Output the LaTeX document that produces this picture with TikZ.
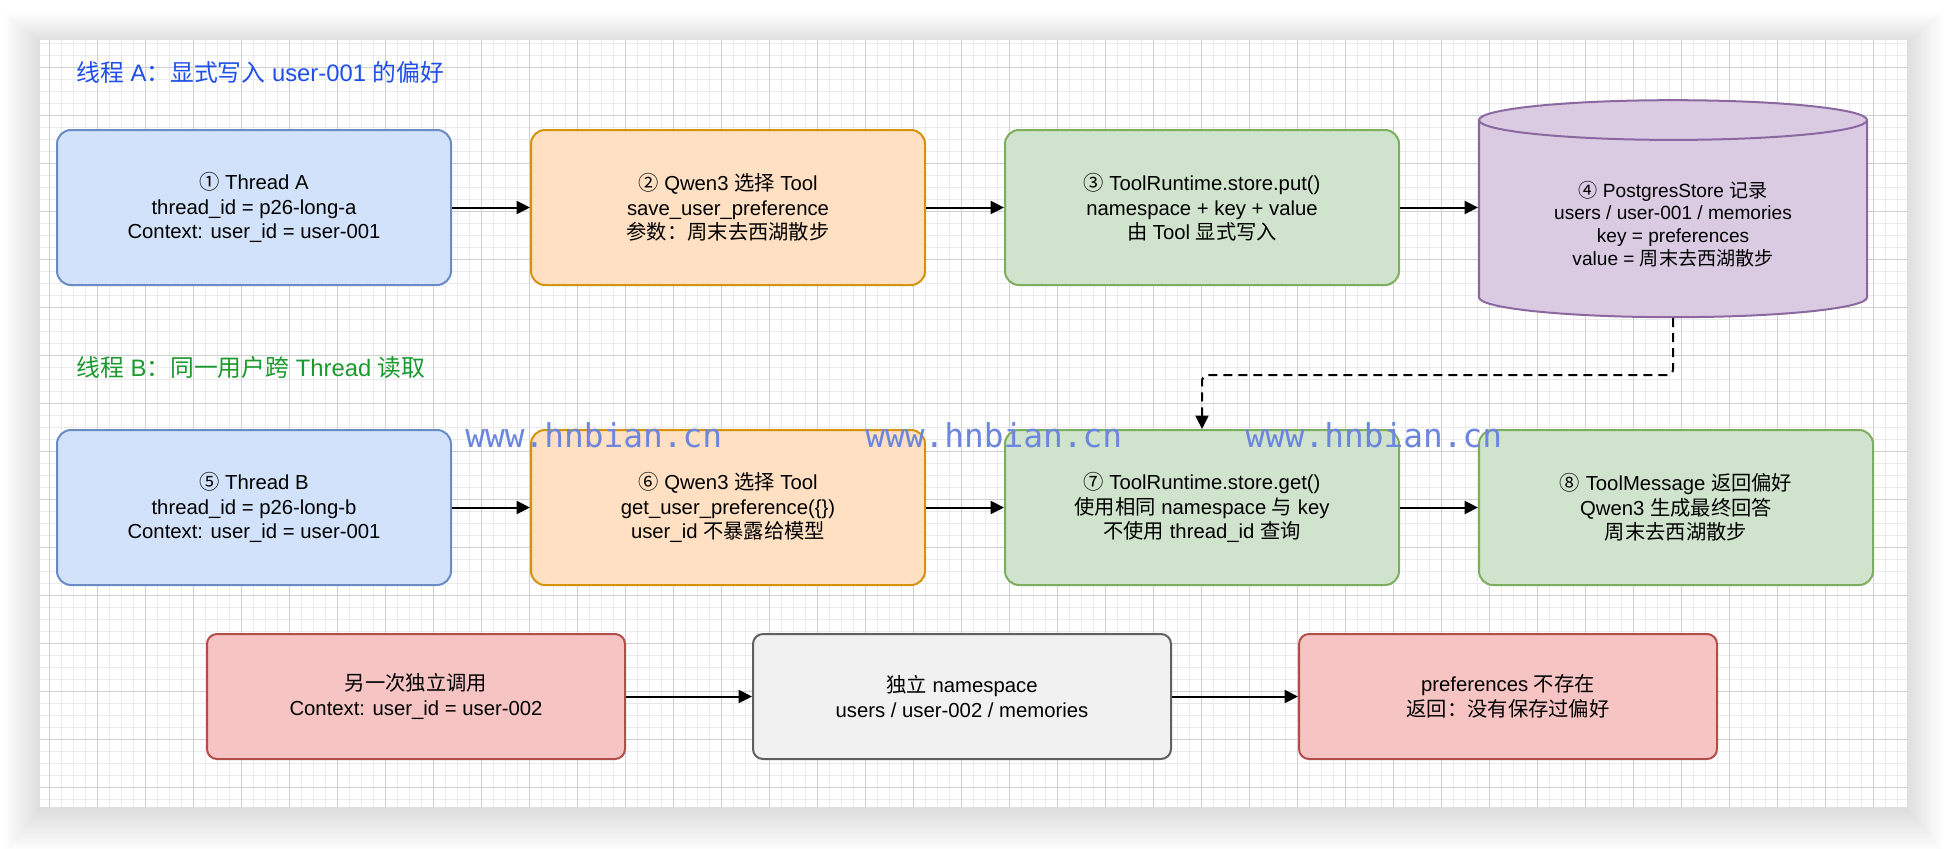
\documentclass[tikz,border=0pt]{standalone}
\usepackage{fontspec}
\setmainfont{Liberation Sans}
\newfontfamily\zhfont{Noto Sans CJK SC}
\newfontfamily\wmfont{DejaVu Sans Mono}
\usetikzlibrary{shapes.geometric, arrows.meta, positioning}
\newcommand{\zh}[1]{{\zhfont #1}}

\definecolor{blueFill}{HTML}{D2E2FA}
\definecolor{blueLine}{HTML}{6A8CC4}
\definecolor{orangeFill}{HTML}{FFE0C2}
\definecolor{orangeLine}{HTML}{D4930A}
\definecolor{greenFill}{HTML}{D0E4CD}
\definecolor{greenLine}{HTML}{7DAE5E}
\definecolor{purpleFill}{HTML}{DACBE3}
\definecolor{purpleLine}{HTML}{8C68A0}
\definecolor{redFill}{HTML}{F5C4C3}
\definecolor{redLine}{HTML}{B24D4A}
\definecolor{greyFill}{HTML}{F1F1F1}
\definecolor{greyLine}{HTML}{5F5F5F}
\definecolor{titleBlue}{HTML}{1F4FE8}
\definecolor{titleGreen}{HTML}{1A9A2E}
\definecolor{wmBlue}{HTML}{6C86DE}
\definecolor{gridMinor}{HTML}{EAEAEA}
\definecolor{gridMajor}{HTML}{D0D0D0}

\begin{document}
\begin{tikzpicture}[x=0.5pt, y=-0.5pt,
  box/.style={rectangle, rounded corners=7pt, line width=1pt,
              minimum width=197pt, minimum height=77.5pt, inner sep=0pt,
              align=center, font=\fontsize{10.15pt}{12.3pt}\selectfont},
  wide/.style={box, rounded corners=5pt, minimum width=209pt, minimum height=62.5pt},
  bluebox/.style={box, draw=blueLine, fill=blueFill},
  orangebox/.style={box, draw=orangeLine, fill=orangeFill},
  greenbox/.style={box, draw=greenLine, fill=greenFill},
  redbox/.style={wide, draw=redLine, fill=redFill},
  greybox/.style={wide, draw=greyLine, fill=greyFill},
  store/.style={cylinder, shape border rotate=90, aspect=0.167, line width=1pt,
                draw=purpleLine, fill=purpleFill, minimum width=194pt,
                minimum height=108.5pt, inner sep=0pt, align=center,
                font=\fontsize{9.55pt}{11.4pt}\selectfont},
  rowtitle/.style={anchor=base west, inner sep=0pt, font=\fontsize{11.9pt}{14pt}\selectfont},
  wmtext/.style={anchor=base west, inner sep=0pt, text=wmBlue, font=\wmfont\fontsize{16.4pt}{18pt}\selectfont},
  gridminor/.style={draw=gridMinor, line width=0.5pt},
  gridmajor/.style={draw=gridMajor, line width=0.5pt},
  arr/.style={-{Triangle[length=6.7pt, width=6.5pt]}, line width=1pt},
  dasharr/.style={arr, dash pattern=on 4.5pt off 3pt, rounded corners=3pt},
]
  \useasboundingbox (0,0) rectangle (1948,848);
  \fill[white] (0,0) rectangle (1948,848);
  \foreach \s in {1,...,16}
    \fill[black, opacity=0.007] (40-2.2*\s,42-1.8*\s) rectangle (1907+2.2*\s,810+2.5*\s);
  \fill[white] (40,40) rectangle (1907,807);
  \foreach \gx in {49,61,...,1897} \draw[gridminor] (\gx,40) -- (\gx,807);
  \foreach \gy in {43.3,55.3,...,799.3} \draw[gridminor] (40,\gy) -- (1907,\gy);
  \foreach \gx in {49,97,...,1873} \draw[gridmajor] (\gx,40) -- (\gx,807);
  \foreach \gy in {67.3,115.3,...,787.3} \draw[gridmajor] (40,\gy) -- (1907,\gy);

  \node[rowtitle, text=titleBlue] (ttlA) at (76,81.5)
    {\zh{线程} A\zh{：显式写入} user-001 \zh{的偏好}};
  \node[rowtitle, text=titleGreen] (ttlB) at (76,376.5)
    {\zh{线程} B\zh{：同一用户跨} Thread \zh{读取}};

  \node[bluebox] (a1) at (254,207.5)
    {\zh{①} Thread A\\thread\_id = p26-long-a\\Context: user\_id = user-001};
  \node[orangebox, right=39pt of a1] (a2)
    {\zh{②} Qwen3 \zh{选择} Tool\\save\_user\_preference\\\zh{参数：周末去西湖散步}};
  \node[greenbox, right=39pt of a2] (a3)
    {\zh{③} ToolRuntime.store.put()\\namespace + key + value\\\zh{由} Tool \zh{显式写入}};
  \node[store, right=39pt of a3, yshift=-5.8pt] (a4)
    {\rule{0pt}{13pt}\zh{④} PostgresStore \zh{记录}\\users / user-001 / memories\\key = preferences\\value = \zh{周末去西湖散步}};

  \node[bluebox] (b1) at (254,507.5)
    {\zh{⑤} Thread B\\thread\_id = p26-long-b\\Context: user\_id = user-001};
  \node[orangebox, right=39pt of b1] (b2)
    {\zh{⑥} Qwen3 \zh{选择} Tool\\get\_user\_preference(\{\})\\user\_id \zh{不暴露给模型}};
  \node[greenbox, right=39pt of b2] (b3)
    {\zh{⑦} ToolRuntime.store.get()\\\zh{使用相同} namespace \zh{与} key\\\zh{不使用} thread\_id \zh{查询}};
  \node[greenbox, right=39pt of b3] (b4)
    {\zh{⑧} ToolMessage \zh{返回偏好}\\Qwen3 \zh{生成最终回答}\\\zh{周末去西湖散步}};

  \node[redbox] (c1) at (416,696.5)
    {\zh{另一次独立调用}\\Context: user\_id = user-002};
  \node[greybox, right=63pt of c1] (c2)
    {\zh{独立} namespace\\users / user-002 / memories};
  \node[redbox, right=63pt of c2] (c3)
    {preferences \zh{不存在}\\\zh{返回：没有保存过偏好}};

  \draw[arr] (a1) -- (a2);
  \draw[arr] (a2) -- (a3);
  \draw[arr] (a3.east) -- (a3.east -| a4.west);
  \draw[arr] (b1) -- (b2);
  \draw[arr] (b2) -- (b3);
  \draw[arr] (b3) -- (b4);
  \draw[arr] (c1) -- (c2);
  \draw[arr] (c2) -- (c3);
  \draw[dasharr] (a4.south) -- ++(0,57) -| (b3.north);

  \node[wmtext] (wm1) at (465,447) {www.hnbian.cn};
  \node[wmtext] (wm2) at (865,447) {www.hnbian.cn};
  \node[wmtext] (wm3) at (1245,447) {www.hnbian.cn};
\end{tikzpicture}
\end{document}
